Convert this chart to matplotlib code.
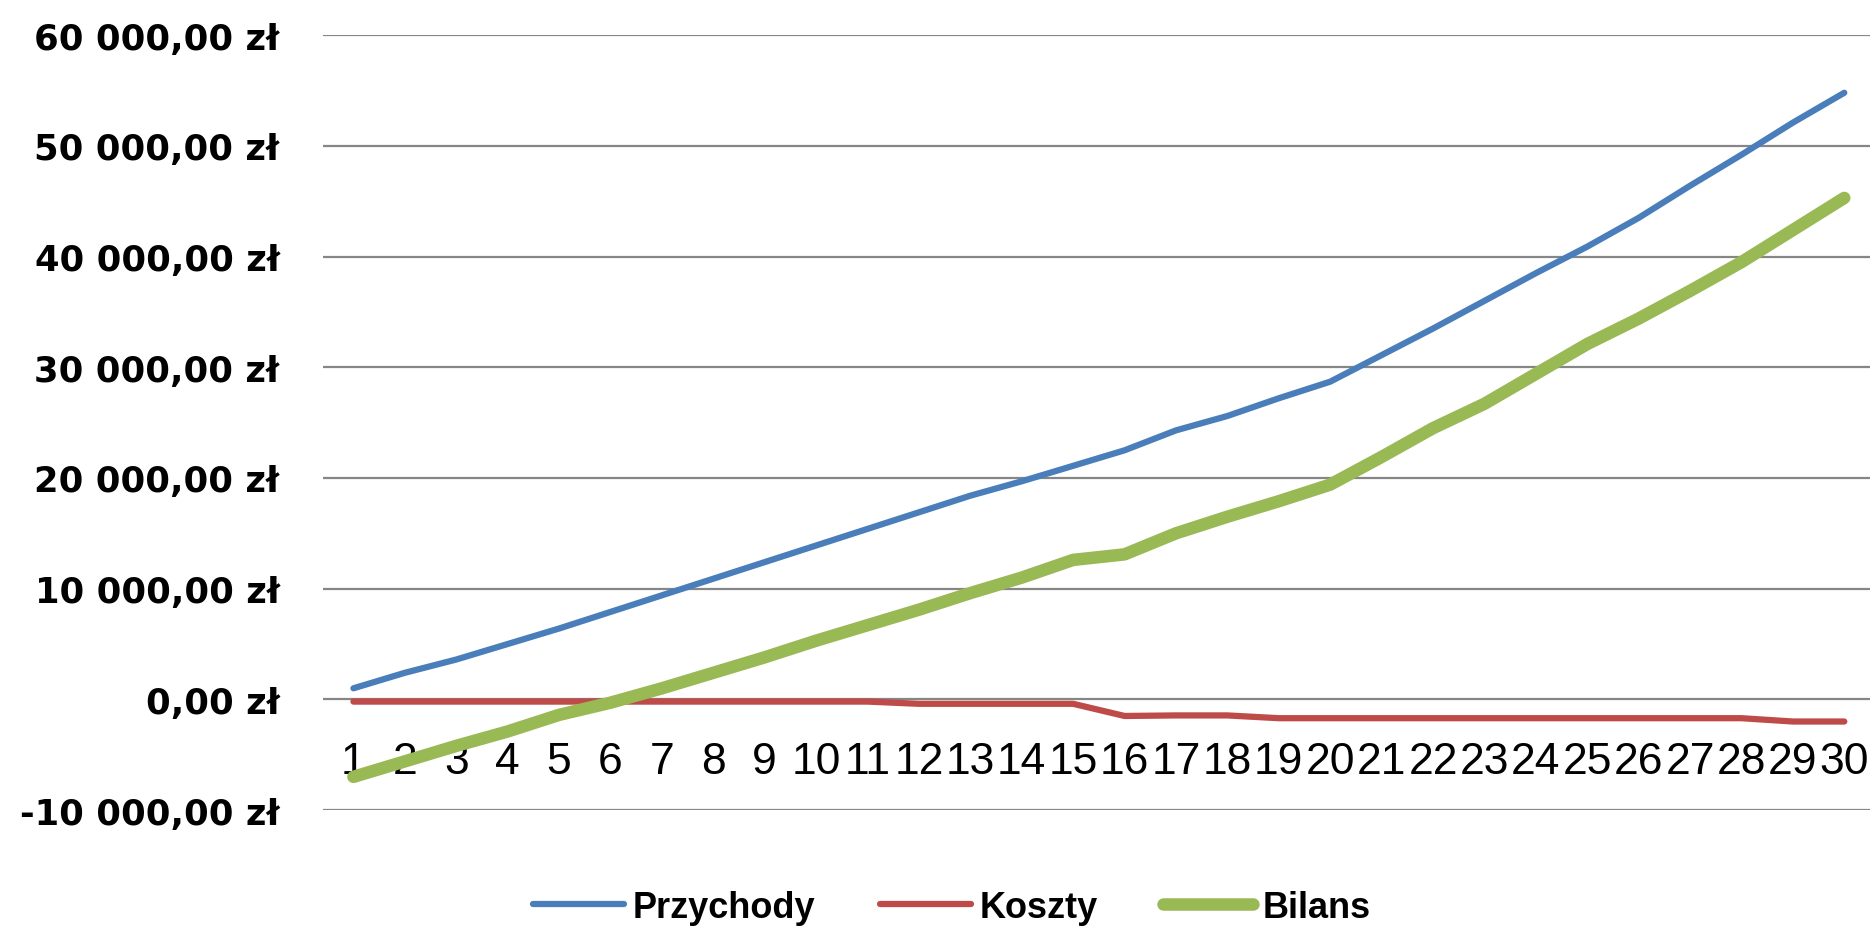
import matplotlib
matplotlib.use("Agg")
from matplotlib import pyplot as plt
from matplotlib.ticker import FuncFormatter

# data (zł)
okresy = list(range(1, 31))
przychody = [1000, 2400, 3600, 5000, 6400, 7900, 9400, 10900, 12400, 13900,
             15400, 16900, 18400, 19700, 21100, 22500, 24300, 25600, 27200, 28700,
             31100, 33500, 36000, 38500, 40900, 43500, 46400, 49200, 52100, 54800]
koszty = [-200, -200, -200, -200, -200, -200, -200, -200, -200, -200,
          -200, -400, -400, -400, -400, -1500, -1450, -1450, -1700, -1700,
          -1700, -1700, -1700, -1700, -1700, -1700, -1700, -1700, -2000, -2000]
bilans = [-7000, -5600, -4200, -2900, -1400, -300, 1000, 2400, 3800, 5300,
          6700, 8100, 9600, 11000, 12600, 13100, 15000, 16500, 17900, 19400,
          21900, 24500, 26700, 29400, 32100, 34400, 36900, 39500, 42400, 45300]
y_ticks = list(range(-10000, 60001, 10000))


def zloty(v, _pos):
    txt = f"{abs(v):,.2f}".replace(",", " ").replace(".", ",")
    return ("-" if v < 0 else "") + txt + " zł"


fig = plt.figure(figsize=(18.7, 9.28), dpi=100)
ax = fig.add_axes([0.1725, 0.126, 0.8275, 0.835])

ax.plot(okresy, przychody, color="#4A7EBB", lw=4.5, solid_capstyle="round",
        solid_joinstyle="round", label="Przychody", zorder=3)
ax.plot(okresy, koszty, color="#BE4B48", lw=4.5, solid_capstyle="round",
        solid_joinstyle="round", label="Koszty", zorder=3)
ax.plot(okresy, bilans, color="#98B954", lw=9, solid_capstyle="round",
        solid_joinstyle="round", label="Bilans", zorder=3)

ax.set_xlim(0.4, 30.5)
ax.set_ylim(-10000, 60000)
ax.set_yticks(y_ticks)
ax.yaxis.set_major_formatter(FuncFormatter(zloty))
ax.grid(axis="y", color="#868686", lw=1.6, zorder=1)
ax.set_axisbelow(True)

for side in ["top", "right", "left"]:
    ax.spines[side].set_visible(False)
ax.spines["bottom"].set_position(("data", 0))
ax.spines["bottom"].set_visible(False)

ax.set_xticks(okresy)
ax.set_xticklabels([str(i) for i in okresy], family="Liberation Sans", fontsize=32)
ax.tick_params(axis="x", length=0, pad=30)
ax.tick_params(axis="y", length=0, pad=31)
for lbl in ax.get_yticklabels():
    lbl.set_fontsize(25.5)
    lbl.set_fontweight("bold")
    lbl.set_family("DejaVu Sans")

fig.legend(loc="center", bbox_to_anchor=(0.509, 0.021), ncol=3, frameon=False,
           handlelength=2.5, handletextpad=0.25, columnspacing=1.8,
           prop={"family": "Liberation Sans", "weight": "bold", "size": 26})

fig.savefig("out.png", dpi=100, facecolor="white")
